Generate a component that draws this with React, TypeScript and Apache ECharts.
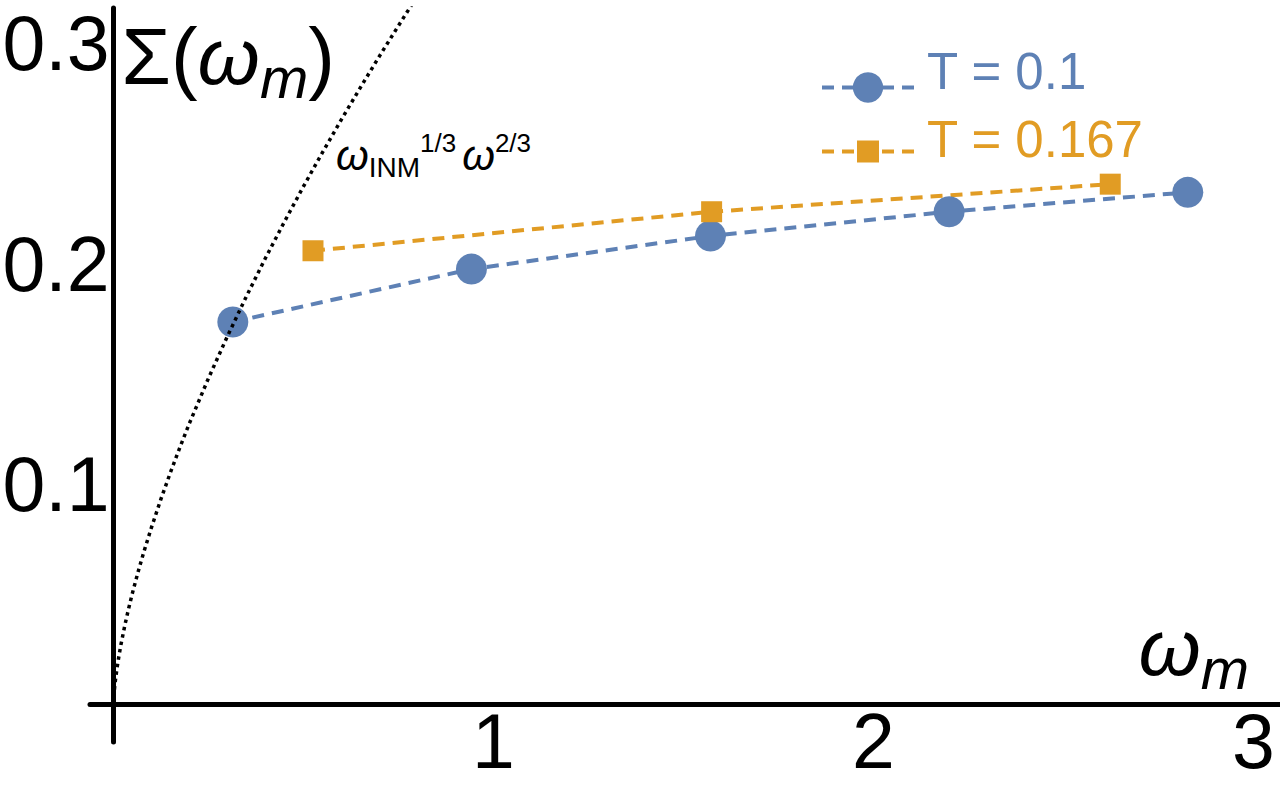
import React, { useEffect, useRef } from "react";
import * as echarts from "echarts";

const BLUE = "#5E81B5";
const ORANGE = "#E19C24";
const FONT = "Liberation Sans";

const seriesNames = ["T = 0.1", "T = 0.167"];

// T = 0.1 (Matsubara frequencies)
const blueOmega = [0.314, 0.942, 1.571, 2.199, 2.827];
const blueSigma = [0.1735, 0.1975, 0.2125, 0.2235, 0.2323];

// T = 0.167
const orangeOmega = [0.525, 1.574, 2.623];
const orangeSigma = [0.2058, 0.2235, 0.236];

// dotted reference curve  ω_INM^{1/3} ω^{2/3}
const curveOmega = [
  0, 0.001, 0.003, 0.006, 0.01, 0.015, 0.02, 0.03, 0.04, 0.05, 0.065, 0.08,
  0.1, 0.125, 0.15, 0.175, 0.2, 0.25, 0.3, 0.35, 0.4, 0.45, 0.5, 0.55, 0.6,
  0.65, 0.7, 0.75, 0.8,
];
const curveSigma = [
  0, 0.00373, 0.00776, 0.01231, 0.01731, 0.02268, 0.02748, 0.03601, 0.04364,
  0.05063, 0.06031, 0.06926, 0.08035, 0.09325, 0.1053, 0.1167, 0.1276, 0.148,
  0.1671, 0.1852, 0.2025, 0.219, 0.235, 0.2504, 0.2654, 0.2799, 0.2941,
  0.3079, 0.3215,
];

const xTicks = [1, 2, 3];
const yTicks = [0.1, 0.2, 0.3];

const X_MIN = -0.0618;
const X_MAX = 3.0697;
const Y_MIN = -0.017;
const Y_MAX = 0.3159;

const pairs = (xs: number[], ys: number[]) => xs.map((x, i) => [x, ys[i]]);

export default function App() {
  const ref = useRef<HTMLDivElement>(null);

  useEffect(() => {
    const chart = echarts.init(ref.current!, null, { renderer: "svg" });

    const nameRich = {
      a0: { fontSize: 80, fontFamily: FONT, color: "#000", lineHeight: 100, padding: [0, 0, 0, 8] },
      a: { fontSize: 80, fontFamily: FONT, color: "#000", lineHeight: 100 },
      w: { fontSize: 80, fontFamily: FONT, fontStyle: "italic", color: "#000", lineHeight: 100 },
      s: { fontSize: 58, fontFamily: FONT, fontStyle: "italic", color: "#000", lineHeight: 100, padding: [41, 0, 0, 0] },
    };
    const xNameRich = {
      w: { fontSize: 80, fontFamily: FONT, fontStyle: "italic", color: "#000", lineHeight: 114 },
      s: { fontSize: 58, fontFamily: FONT, fontStyle: "italic", color: "#000", lineHeight: 114, padding: [41, 0, 0, 0] },
    };

    const legendBase = {
      left: 820,
      orient: "vertical",
      padding: 0,
      itemGap: 0,
      itemWidth: 92,
      selectedMode: false,
      formatter: "{t|{name}}",
    };

    const option: any = {
      animation: false,
      backgroundColor: "#ffffff",
      textStyle: { fontFamily: FONT },
      grid: {
        left: 90,
        right: 0,
        top: 8,
        bottom: 56,
        containLabel: false,
        outerBoundsMode: "none",
      },
      xAxis: {
        type: "value",
        min: X_MIN,
        max: X_MAX,
        name: "{w|ω}{s|m}",
        nameLocation: "end",
        nameGap: -31,
        nameMoveOverlap: false,
        nameTextStyle: { align: "right", verticalAlign: "bottom", rich: xNameRich },
        axisLine: { show: true, onZero: true, lineStyle: { color: "#000", width: 5 } },
        axisTick: { show: false },
        axisLabel: {
          show: true,
          customValues: xTicks,
          margin: -40,
          color: "#000",
          fontSize: 77,
          fontFamily: FONT,
          formatter: (v: number) => String(v),
        },
        splitLine: { show: false },
      },
      yAxis: {
        type: "value",
        min: Y_MIN,
        max: Y_MAX,
        name: "{a0|Σ(}{w|ω}{s|m}{a|)}",
        nameLocation: "end",
        nameGap: -48.5,
        nameMoveOverlap: false,
        nameTextStyle: { align: "left", verticalAlign: "middle", rich: nameRich },
        axisLine: { show: true, onZero: true, lineStyle: { color: "#000", width: 5 } },
        axisTick: { show: false },
        axisLabel: {
          show: true,
          customValues: yTicks,
          margin: -19.5,
          color: "#000",
          fontSize: 77,
          fontFamily: FONT,
          formatter: (v: number) => v.toFixed(1),
        },
        splitLine: { show: false },
      },
      legend: [
        {
          ...legendBase,
          data: [seriesNames[0]],
          top: 45.5,
          itemHeight: 38,
          lineStyle: { width: 4, type: [12, 8], color: BLUE },
          textStyle: {
            color: BLUE,
            fontSize: 51,
            fontFamily: FONT,
            rich: { t: { color: BLUE, fontSize: 51, fontFamily: FONT, padding: [0, 0, 33, 8] } },
          },
        },
        {
          ...legendBase,
          data: [seriesNames[1]],
          top: 114,
          itemHeight: 27.5,
          lineStyle: { width: 4, type: [12, 8], color: ORANGE },
          textStyle: {
            color: ORANGE,
            fontSize: 51,
            fontFamily: FONT,
            rich: { t: { color: ORANGE, fontSize: 51, fontFamily: FONT, padding: [0, 0, 24, 8] } },
          },
        },
      ],
      graphic: [
        {
          type: "text",
          x: 336,
          y: 155.4,
          silent: true,
          style: {
            text: "{w|ω}{sub|INM}{sup|1/3}{w2|ω}{sup|2/3}",
            x: 0,
            y: 0,
            align: "left",
            verticalAlign: "middle",
            fill: "#000",
            rich: {
              w: { fontSize: 42, fontFamily: FONT, fontStyle: "italic", fill: "#000", lineHeight: 60 },
              w2: { fontSize: 42, fontFamily: FONT, fontStyle: "italic", fill: "#000", lineHeight: 60, padding: [0, 0, 0, 6] },
              sub: { fontSize: 28, fontFamily: FONT, fill: "#000", lineHeight: 60, padding: [24, 0, 0, 0] },
              sup: { fontSize: 26, fontFamily: FONT, fill: "#000", lineHeight: 60, padding: [0, 0, 25, 0] },
            },
          },
        },
      ],
      series: [
        {
          name: seriesNames[0],
          type: "line",
          data: pairs(blueOmega, blueSigma),
          symbol: "circle",
          symbolSize: 31,
          itemStyle: { color: BLUE },
          lineStyle: { color: BLUE, width: 4, type: [12, 8] },
          z: 3,
        },
        {
          name: seriesNames[1],
          type: "line",
          data: pairs(orangeOmega, orangeSigma),
          symbol: "rect",
          symbolSize: 21,
          itemStyle: { color: ORANGE },
          lineStyle: { color: ORANGE, width: 4, type: [12, 8] },
          z: 3,
        },
        {
          name: "curve",
          type: "line",
          data: pairs(curveOmega, curveSigma),
          symbol: "none",
          silent: true,
          clip: true,
          lineStyle: { color: "#000", width: 3.5, type: [3.5, 4] },
          z: 4,
        },
      ],
    };

    chart.setOption(option);
    return () => chart.dispose();
  }, []);

  return (
    <div
      ref={ref}
      style={{ position: "fixed", left: 0, top: 0, width: 1280, height: 798, background: "#fff" }}
    />
  );
}
